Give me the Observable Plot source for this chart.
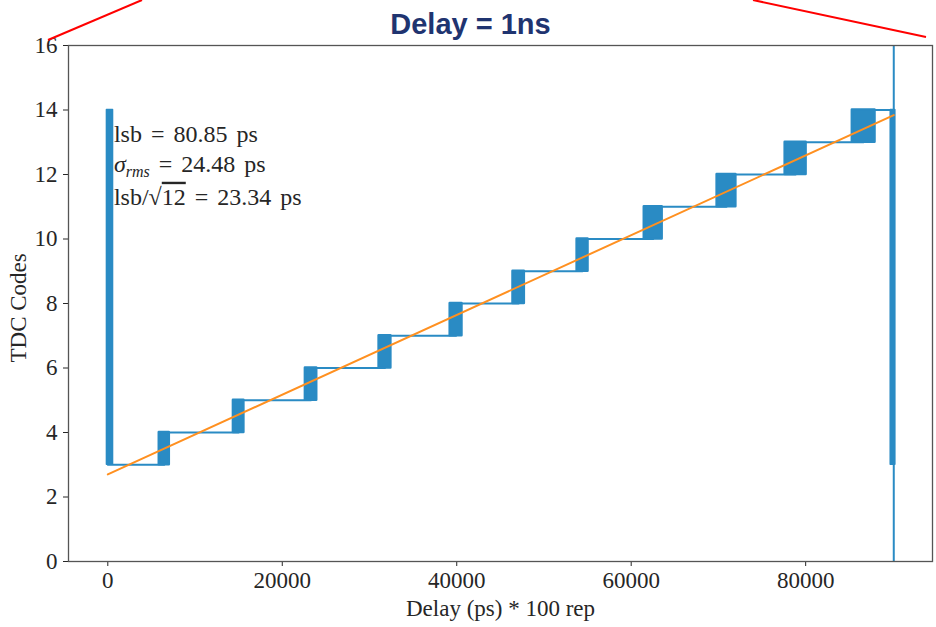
<!DOCTYPE html>
<html>
<head>
<meta charset="utf-8">
<script src="https://cdn.jsdelivr.net/npm/d3@7"></script>
<script src="https://cdn.jsdelivr.net/npm/@observablehq/plot@0.6"></script>
<style>
  body { margin: 0; background: #fff; }
  #chart { width: 936px; height: 627px; }
  svg { overflow: visible; }
</style>
</head>
<body>
<div id="chart"></div>
<script>
// ---- data ----
const title = "Delay = 1ns";
const xLabel = "Delay (ps) * 100 rep";
const yLabel = "TDC Codes";
const xTicks = [0, 20000, 40000, 60000, 80000];
const yTicks = [0, 2, 4, 6, 8, 10, 12, 14, 16];

// stable TDC codes and the transition (toggling) regions between them
const codes = [3, 4, 5, 6, 7, 8, 9, 10, 11, 12, 13, 14];
const bandStart = [5900, 14400, 22650, 31100, 39250, 46450, 53800, 61500, 69850, 77650, 85350];
const bandEnd   = [7050, 15600, 23950, 32450, 40600, 47750, 55050, 63550, 72000, 80050, 87950];
const delayStart = 0;
const delayEnd = 90100;

// wrap-around noise at both ends of the sweep
const wrapX1 = [-100, 89750];
const wrapX2 = [600, 90280];
const wrapLow = [3, 3];
const wrapHigh = [14, 14];
const spikeX = [90100];
const spikeLow = [0];
const spikeHigh = [16];

// linear fit
const fitX = [0, 90100];
const fitY = [2.70, 13.84];

// annotation
const annoLines = ["lsb = 80.85 ps", "σrms = 24.48 ps", "lsb/√12 = 23.34 ps"];
const annoX = [700, 700, 700];
const annoY = [13.24, 12.31, 11.30];

// ---- derived tables ----
const stepPts = [{x: delayStart, y: codes[0]}];
bandStart.forEach((s, i) => stepPts.push({x: (s + bandEnd[i]) / 2, y: codes[i + 1]}));
stepPts.push({x: delayEnd, y: codes[codes.length - 1]});
const bands = bandStart.map((s, i) => ({x1: s, x2: bandEnd[i], y1: codes[i], y2: codes[i + 1]}));
const wraps = wrapX1.map((x1, i) => ({x1, x2: wrapX2[i], y1: wrapLow[i], y2: wrapHigh[i]}));
const spikes = spikeX.map((x, i) => ({x, y1: spikeLow[i], y2: spikeHigh[i]}));
const fit = fitX.map((x, i) => ({x, y: fitY[i]}));
const anno = annoLines.map((t, i) => ({t, x: annoX[i], y: annoY[i]}));

const BLUE = "#2a8bc4";
const ORANGE = "#ff9020";
const INK = "#262626";

const plot = Plot.plot({
  width: 936,
  height: 627,
  marginTop: 45,
  marginBottom: 66,
  marginLeft: 68,
  marginRight: 4,
  style: {fontFamily: "'Liberation Serif', serif", fontSize: "23px", color: INK, background: "#fff"},
  x: {domain: [-4506, 94540]},
  y: {domain: [0, 16]},
  marks: [
    Plot.axisX({ticks: xTicks, tickFormat: d => String(d), tickSize: 5, tickPadding: 5, label: null, stroke: INK}),
    Plot.axisY({ticks: yTicks, tickFormat: d => String(d), tickSize: 5, tickPadding: 6, label: null, stroke: INK}),
    Plot.line(stepPts, {x: "x", y: "y", curve: "step-after", stroke: BLUE, strokeWidth: 2}),
    Plot.rect(bands, {x1: "x1", x2: "x2", y1: "y1", y2: "y2", fill: BLUE, stroke: BLUE, strokeWidth: 2.5, strokeLinejoin: "round"}),
    Plot.rect(wraps, {x1: "x1", x2: "x2", y1: "y1", y2: "y2", fill: BLUE, stroke: BLUE, strokeWidth: 1.5, strokeLinejoin: "round"}),
    Plot.ruleX(spikes, {x: "x", y1: "y1", y2: "y2", stroke: BLUE, strokeWidth: 2}),
    Plot.line(fit, {x: "x", y: "y", stroke: ORANGE, strokeWidth: 2}),
    Plot.text(anno, {x: "x", y: "y", text: "t", textAnchor: "start", fill: INK, fontSize: 24}),
    Plot.frame({stroke: "#555", strokeWidth: 1.3}),
    Plot.text([xLabel], {frameAnchor: "bottom", dy: 54, fill: INK, fontSize: 23}),
    Plot.text([yLabel], {frameAnchor: "left", rotate: -90, dx: -50, dy: 59, fill: INK, fontSize: 23}),
    Plot.text([title], {frameAnchor: "top", dx: -30, dy: -32, fill: "#1f3470", fontSize: 29, fontWeight: "bold", fontFamily: "'Liberation Sans', Arial, sans-serif"})
  ]
});

// rich text for the annotation lines (sigma subscript, square-root bar)
d3.select(plot).selectAll("text").each(function() {
  const t = d3.select(this);
  const s = this.textContent;
  if (annoLines.includes(s)) t.attr("word-spacing", 3);
  if (s === annoLines[1]) {
    t.text(null);
    t.append("tspan").attr("font-style", "italic").text("σ");
    t.append("tspan").attr("font-style", "italic").attr("font-size", 16).attr("dy", 5).text("rms");
    t.append("tspan").attr("dy", -5).text(" = 24.48 ps");
  } else if (s === annoLines[2]) {
    t.text(null);
    t.append("tspan").text("lsb/√");
    t.append("tspan").attr("text-decoration", "overline").text("12");
    t.append("tspan").text(" = 23.34 ps");
  }
});

// decorative red callout lines from the slide
const svg = d3.select(plot);
[[48, 40, 142, 0], [753, 0, 926, 37]].forEach(([a, b, c, e]) => {
  svg.append("line").attr("x1", a).attr("y1", b).attr("x2", c).attr("y2", e)
    .attr("stroke", "#f00").attr("stroke-width", 2);
});

document.getElementById("chart").appendChild(plot);
</script>
</body>
</html>
